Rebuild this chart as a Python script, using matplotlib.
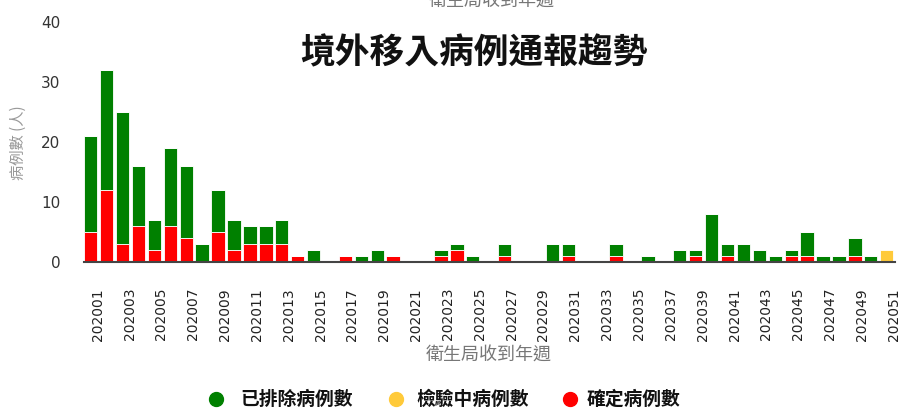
import matplotlib
matplotlib.use("Agg")
import matplotlib.pyplot as plt
from matplotlib.lines import Line2D
import numpy as np

plt.rcParams['font.family'] = ['DejaVu Sans', 'Noto Sans CJK TC']

weeks = [f"2020{w:02d}" for w in range(1, 52)]
confirmed = [5, 12, 3, 6, 2, 6, 4, 0, 5, 2, 3, 3, 3, 1, 0, 0, 1, 0, 0, 1,
             0, 0, 1, 2, 0, 0, 1, 0, 0, 0, 1, 0, 0, 1, 0, 0, 0, 0, 1, 0,
             1, 0, 0, 0, 1, 1, 0, 0, 1, 0, 0]
excluded = [16, 20, 22, 10, 5, 13, 12, 3, 7, 5, 3, 3, 4, 0, 2, 0, 0, 1, 2, 0,
            0, 0, 1, 1, 1, 0, 2, 0, 0, 3, 2, 0, 0, 2, 0, 1, 0, 2, 1, 8,
            2, 3, 2, 1, 1, 4, 1, 1, 3, 1, 0]
testing = [0] * 50 + [2]

series_labels = ["已排除病例數", "檢驗中病例數", "確定病例數"]
c_green, c_yellow, c_red = "#008000", "#FFCA3A", "#FF0000"
cjk = ['Noto Sans CJK TC', 'DejaVu Sans']

W, H = 902, 408
fig = plt.figure(figsize=(W / 100, H / 100), dpi=100)
ax = fig.add_axes([84 / W, 1 - 261.5 / H, (895 - 84) / W, (261.5 - 22) / H])

x = np.arange(1, len(weeks) + 1)
conf = np.array(confirmed)
exc = np.array(excluded)
tst = np.array(testing)
bw = 0.84
ax.bar(x, conf, bw, color=c_red, edgecolor='white', linewidth=0.6)
ax.bar(x, exc, bw, bottom=conf, color=c_green, edgecolor='white', linewidth=0.6)
ax.bar(x, tst, bw, bottom=conf + exc, color=c_yellow, edgecolor='white', linewidth=0.6)

ax.set_xlim(0.58, 51.52)
ax.set_ylim(0, 40)
ax.set_yticks([0, 10, 20, 30, 40])
ax.tick_params(axis='y', length=0, pad=17, labelsize=11, labelcolor='#333333')
ax.set_xticks(x[::2])
ax.set_xticklabels(weeks[::2], rotation=90, ha='left', fontsize=10, color='#222222')
ax.tick_params(axis='x', length=0, pad=19)
for s in ['top', 'right', 'left']:
    ax.spines[s].set_visible(False)
ax.spines['bottom'].set_color('#444444')
ax.spines['bottom'].set_linewidth(1.5)

fig.text(474 / W, 1 - 52.5 / H, "境外移入病例通報趨勢", ha='center', va='center',
         fontsize=25, fontweight='bold', family=cjk, color='#111111')
fig.text(18 / W, 1 - 143 / H, "病例數 (人)", rotation=90, ha='center', va='center',
         fontsize=11, color='#999999', family=cjk)
fig.text(489 / W, 1 - 356 / H, "衛生局收到年週", ha='center', va='center',
         fontsize=13, color='#777777', family=cjk)
fig.text(492 / W, 1 - 11 / H, "衛生局收到年週", ha='center', va='bottom',
         fontsize=13, color='#777777', family=cjk)

# legend drawn in figure coordinates
leg_y = 1 - 399 / H
marker_x = [216, 396, 570]
text_x = [240, 416, 587]
for mx, tx, c, lab in zip(marker_x, text_x, (c_green, c_yellow, c_red), series_labels):
    fig.add_artist(Line2D([mx / W], [leg_y], marker='o', linestyle='none',
                          markersize=10, color=c, transform=fig.transFigure))
    fig.text(tx / W, leg_y, lab, ha='left', va='center', fontsize=13.5,
             fontweight='bold', family=cjk, color='#111111')

fig.savefig("out.png", dpi=100)
